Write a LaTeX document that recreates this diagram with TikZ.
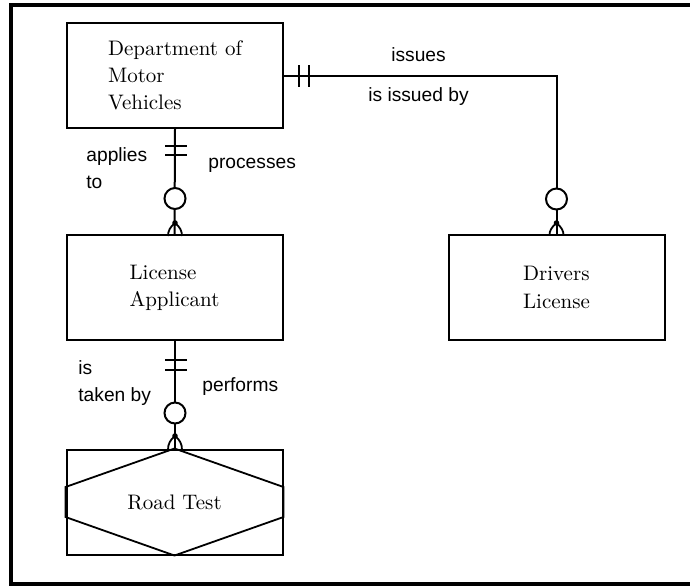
\documentclass[tikz,border=0pt]{standalone}
\usepackage{fontspec}
\setsansfont{Liberation Sans}
\usetikzlibrary{calc}
\begin{document}
\begin{tikzpicture}[x=0.5pt,y=-0.5pt,
  entity/.style={draw,line width=1pt,inner sep=0pt,align=left,
    minimum width=108pt,minimum height=52.5pt,
    font=\fontsize{10.5}{13.6}\selectfont},
  rel/.style={line width=1pt},
  role/.style={font=\sffamily\fontsize{9.6}{13.5}\selectfont,inner sep=0pt,align=left},
  bar/.style={line width=1pt},
  ring/.style={draw,line width=1pt,fill=white,circle,inner sep=0pt,minimum size=10.5pt},
  foot/.style={line width=0.9pt},
]
\useasboundingbox (0,0) rectangle (690,586);

% outer frame (open on the right)
\draw[line width=2pt] (690,5) -- (11,5) -- (11,584) -- (690,584);

% entities
\node[entity] (dmv)  at (175,75.5)   {Department of\\Motor\\Vehicles};
\node[entity] (app)  at (174.5,287.5) {License\\Applicant};
\node[entity] (drv)  at (556.5,287.5) {Drivers\\License};
\node[entity,align=center] (road) at (174.5,502) {Road Test};
% associative entity: hexagon inside the box
\draw[line width=0.9pt] (road.north) -- ($(road.east)+(0,-15)$) -- ($(road.east)+(0,15)$)
  -- (road.south) -- ($(road.west)+(0,15)$) -- ($(road.west)+(0,-15)$) -- cycle;

% relationship lines
\draw[rel] (dmv.south) -- (app.north);
\draw[rel] (app.south) -- (road.north);
\draw[rel] (dmv.east) -| (drv.north);

% one-and-only-one marks
\draw[bar] (165,146) -- (187,146);
\draw[bar] (165,155) -- (187,155);
\draw[bar] (165,360) -- (187,360);
\draw[bar] (165,370) -- (187,370);
\draw[bar] (299,65) -- (299,87);
\draw[bar] (309,65) -- (309,87);

% zero-or-many marks
\node[ring] (r1) at (175,198.5) {};
\node[ring] (r2) at (175,413) {};
\node[ring] (r3) at (556.5,199) {};
\foreach \cx/\cy/\ty in {175/223/236, 175/436/450, 556.5/223/235}{
  \fill (\cx,\cy) circle (1.4pt);
  \draw[foot] (\cx,\cy) .. controls (\cx-5,\cy+4) and (\cx-7,\cy+8) .. (\cx-7,\ty);
  \draw[foot] (\cx,\cy) .. controls (\cx+5,\cy+4) and (\cx+7,\cy+8) .. (\cx+7,\ty);
}

% relationship labels
\node[role,anchor=west] (l1) at (86,168.5) {applies\\to};
\node[role,anchor=west] (l2) at (208,165) {processes};
\node[role] (l3) at (418.5,55) {issues};
\node[role] (l4) at (418.5,97) {is issued by};
\node[role,anchor=west] (l5) at (78,383.5) {is\\taken by};
\node[role,anchor=west] (l6) at (202,387) {performs};
\end{tikzpicture}
\end{document}
